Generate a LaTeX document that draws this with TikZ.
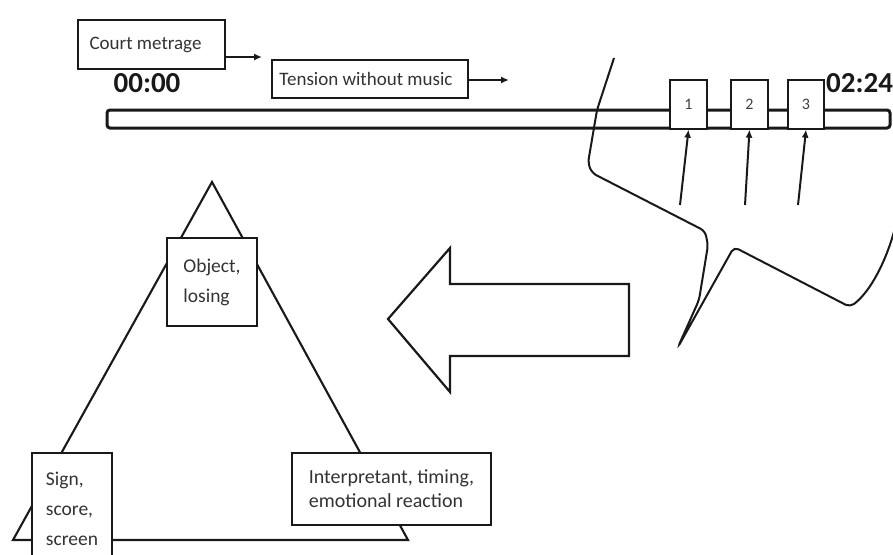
\documentclass[tikz,border=0pt]{standalone}
\usepackage{fontspec}
\setmainfont{Carlito}
\usetikzlibrary{arrows.meta}
\begin{document}
\begin{tikzpicture}[x=1pt,y=-1pt,
  ink/.style={draw=black!90},
  box/.style={ink, line width=1.8pt, fill=white, inner sep=0pt, text=black!80, align=left},
  smallbox/.style={ink, line width=1.3pt, fill=white, inner sep=0pt, text=black!75,
    minimum height=49pt, font=\fontsize{16}{18}\selectfont},
  boxfont/.style={font=\fontsize{19.5}{30}\selectfont},
  timefont/.style={font=\fontsize{29}{32}\bfseries\selectfont, text=black!90, inner sep=0pt},
  arr/.style={ink, line width=2pt, -{Latex[length=8pt,width=7pt]}},
  thin/.style={ink, line width=2pt}
]
\useasboundingbox (0,0) rectangle (893,554);

% timeline bar
\node[ink, line width=3pt, rounded corners=3pt, minimum width=783pt, minimum height=18pt, inner sep=0pt] (bar) at (498.5,119) {};

% top boxes
\node[box, minimum width=147pt, minimum height=49pt, font=\fontsize{19}{22}\selectfont] (court) at (151.5,44.5) {Court metrage\hspace{12pt}};
\node[box, minimum width=196pt, minimum height=38pt, font=\fontsize{19}{22}\selectfont] (tension) at (370,79) {Tension without music\hspace{8pt}};
\coordinate (a1) at (262,57);
\coordinate (a2) at (509,80);
\draw[arr] (court.east |- a1) -- (a1);
\draw[arr] (tension.east |- a2) -- (a2);

% times
\node[timefont] (t0) at (147,83) {00:00};
\node[timefont, anchor=west] (t1) at (826,83) {02:24};

% bubble outline
\draw[thin, rounded corners=5pt]
  (614,58) -- (597,110) -- (588,163) -- (592,173) -- (705,231) -- (708,245)
  -- (699,300) -- (678,347) -- (734,247) -- (850,307)
  .. controls (870,292) and (886,262) .. (895,228);

% numbered boxes
\node[smallbox, minimum width=37pt] (b1) at (688.5,104.5) {1};
\node[smallbox, minimum width=37pt] (b2) at (749.5,104.5) {2};
\node[smallbox, minimum width=36pt] (b3) at (806,104.5) {3};
\coordinate (p1) at (680,205);
\coordinate (p2) at (745,205);
\coordinate (p3) at (798,205);
\draw[arr] (p1) -- (b1.south);
\draw[arr] (p2) -- (b2.south);
\draw[arr] (p3) -- (b3.south);

% big left arrow
\draw[thin, line width=2.2pt, line join=miter]
  (388,319) -- (450,248) -- (450,284) -- (629,284) -- (629,356) -- (450,356) -- (450,392) -- cycle;

% triangle
\draw[thin, line width=2.1pt] (212,182) -- (408,540) -- (13,540) -- cycle;

% triangle boxes
\node[box, boxfont, minimum width=90pt, minimum height=88pt] (obj) at (212,282) {Object,\\losing};
\node[box, boxfont, minimum width=80pt, minimum height=112pt] (sign) at (72,509) {Sign,\\score,\\screen};
\node[box, font=\fontsize{20}{24}\selectfont, minimum width=199pt, minimum height=72pt] (interp) at (391.5,489) {Interpretant, timing,\\emotional reaction};
\end{tikzpicture}
\end{document}
